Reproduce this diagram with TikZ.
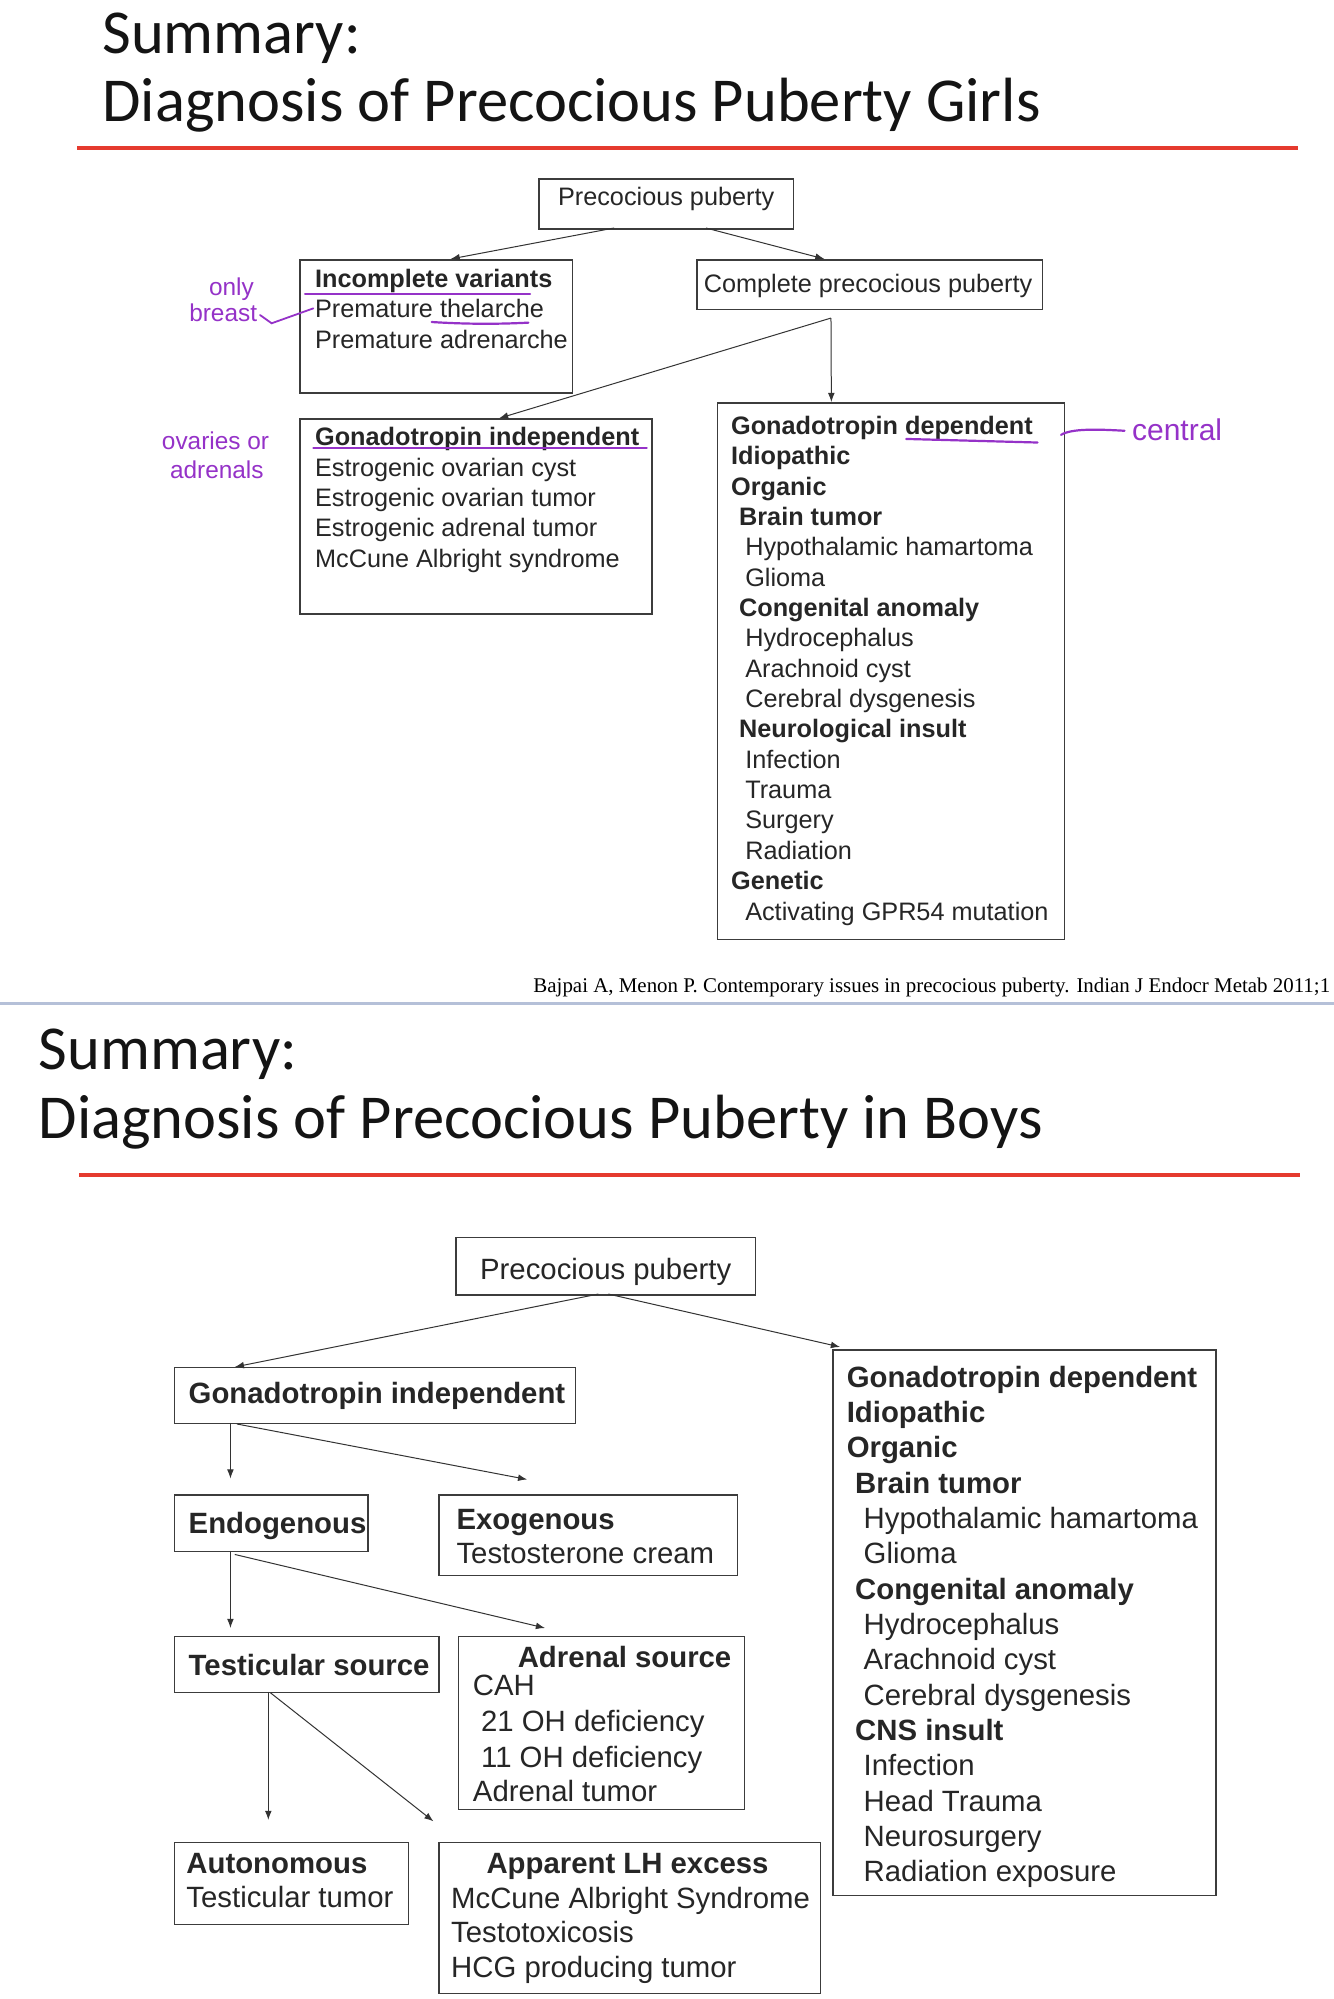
\documentclass[tikz,border=0pt]{standalone}
\usepackage{fontspec}
\setmainfont{Liberation Sans}
\newfontfamily\titlefont{Carlito}
\newfontfamily\citefont{Liberation Serif}
\newfontfamily\handfont{Liberation Sans}
\usetikzlibrary{arrows.meta}
\newdimen\pxu \pxu=0.6377pt
\definecolor{txtc}{HTML}{262626}
\definecolor{boxc}{HTML}{3C3C3C}
\definecolor{linec}{HTML}{333333}
\definecolor{redl}{HTML}{E53A2E}
\definecolor{sepl}{HTML}{B5C0D8}
\definecolor{annot}{HTML}{9532C8}
\newcommand{\boxtext}[5]{\parbox[t][#2\pxu][t]{#1\pxu}{\raggedright\leftskip=#3\pxu\relax\vspace*{#4\pxu}\strut #5}}
\newcommand{\ia}{\hspace*{6.3\pxu}}
\newcommand{\ib}{\hspace*{11.1\pxu}}
\newcommand{\ja}{\hspace*{6.6\pxu}}
\newcommand{\jb}{\hspace*{13.3\pxu}}
\begin{document}
\begin{tikzpicture}[x=0.6377pt, y=-0.6377pt,
  bx/.style={draw=boxc, line width=0.75pt, inner sep=0pt, anchor=north west, text=txtc},
  gfont/.style={font=\fontsize{12.63}{15.18}\selectfont},
  bfont/.style={font=\fontsize{14.67}{17.66}\selectfont},
  arr/.style={draw=linec, line width=0.5pt, -{Latex[length=4.6pt,width=3.4pt]}},
  ttl/.style={anchor=base west, inner sep=0pt, font=\titlefont\fontsize{31.25}{36}\selectfont, text=black!92},
  hand/.style={text=annot, inner sep=0pt, font=\handfont\fontsize{12.2}{14}\selectfont},
  hline/.style={draw=annot, line width=1.1pt, line cap=round}]
\fill[white] (0,0) rectangle (1046,1567.5);
\useasboundingbox (0,0) rectangle (1046,1567.5);

% ===== Girls =====
\node[ttl] (t1a) at (80,41.8) {Summary:};
\node[ttl] (t1b) at (80,95.4) {Diagnosis of Precocious Puberty Girls};
\draw[redl, line width=2pt] (60.4,116) -- (1017.8,116);

\node[bx, gfont] (ppg) at (421.9,139.6) {\boxtext{199.9}{39.2}{15.1}{4.4}{Precocious puberty}};
\node[bx, gfont] (cpp) at (545.8,203.1) {\boxtext{271.2}{39.2}{5.5}{8.9}{Complete precocious puberty}};
\node[bx, gfont] (iv) at (234.7,203.1) {\boxtext{213.6}{104.5}{11.8}{5.0}{\textbf{Incomplete variants}\\Premature thelarche\\Premature adrenarche}};
\node[bx, gfont] (gig) at (234.7,328) {\boxtext{275.8}{153}{11.8}{4.3}{\textbf{Gonadotropin independent}\\Estrogenic ovarian cyst\\Estrogenic ovarian tumor\\Estrogenic adrenal tumor\\McCune Albright syndrome}};
\node[bx, gfont] (gdg) at (562.2,315.3) {\boxtext{272.1}{421}{10.5}{8.0}{\textbf{Gonadotropin dependent}\\\textbf{Idiopathic}\\\textbf{Organic}\\\ia\textbf{Brain tumor}\\\ib Hypothalamic hamartoma\\\ib Glioma\\\ia\textbf{Congenital anomaly}\\\ib Hydrocephalus\\\ib Arachnoid cyst\\\ib Cerebral dysgenesis\\\ia\textbf{Neurological insult}\\\ib Infection\\\ib Trauma\\\ib Surgery\\\ib Radiation\\\textbf{Genetic}\\\ib Activating GPR54 mutation}};

\coordinate (ga) at (481.5,178.8);
\coordinate (gb) at (553.6,178.8);
\coordinate (ivtop) at (353.3,203.1);
\coordinate (cpptop) at (646.5,203.1);
\coordinate (gj) at (651.6,249.4);
\coordinate (gdtop) at (651.9,315.3);
\coordinate (gitop) at (391.3,328);
\draw[arr] (ga) -- (ivtop);
\draw[arr] (gb) -- (cpptop);
\draw[arr] (gj) -- (gdtop);
\draw[arr] (gj) -- (gitop);

% annotations
\node[hand] (h1) at (181.5,226.7) {only};
\node[hand] (h2) at (175,245.6) {breast};
\draw[hline, line width=0.9pt] (203.9,247) -- (213,253.5) -- (245.7,241.8);
\draw[hline] (239.2,230.5) -- (415.6,230.5);
\draw[hline] (338.5,252.5) .. controls (370,254.5) and (395,254) .. (414.3,253);
\node[hand] (h3) at (169,345.7) {ovaries or};
\node[hand] (h4) at (170,368.5) {adrenals};
\draw[hline] (245.7,351.5) -- (507.1,351.5);
\draw[hline] (710.6,344.2) -- (813.6,347);
\draw[hline] (832,341) .. controls (840,336) and (860,336.5) .. (881.8,337.8);
\node[hand, font=\handfont\fontsize{15}{17}\selectfont] (h5) at (923,337) {central};

% citation + separator
\node[anchor=base west, inner sep=0pt, font=\citefont\fontsize{10.46}{12}\selectfont, text=black] (cite) at (418,778.4) {Bajpai A, Menon P. Contemporary issues in precocious puberty. Indian J Endocr Metab 2011;1};
\draw[sepl, line width=1.3pt] (0,786.8) -- (1046,786.8);

% ===== Boys =====
\node[ttl] (t2a) at (30,839) {Summary:};
\node[ttl] (t2b) at (30,893) {Diagnosis of Precocious Puberty in Boys};
\draw[redl, line width=2pt] (62,921.4) -- (1019,921.4);

\node[bx, bfont] (ppb) at (356.8,969.7) {\boxtext{235.2}{45}{19.1}{13.8}{Precocious puberty}};
\node[bx, bfont] (gib) at (136.2,1071.9) {\boxtext{314.4}{43.8}{11.2}{8.6}{\textbf{Gonadotropin independent}}};
\node[bx, bfont] (endo) at (136.2,1171.6) {\boxtext{151.9}{44.5}{11.2}{11.1}{\textbf{Endogenous}}};
\node[bx, bfont] (exo) at (343.5,1171.6) {\boxtext{234.4}{63.1}{13.9}{7.6}{\textbf{Exogenous}\\[-1.1\pxu]Testosterone cream}};
\node[bx, bfont] (tes) at (136.2,1282.6) {\boxtext{207.3}{44.1}{11.2}{11.4}{\textbf{Testicular source}}};
\node[bx, bfont] (adr) at (359.1,1282.6) {\boxtext{224.2}{135.8}{11.2}{5.2}{\hspace*{35.1\pxu}\textbf{Adrenal source}\\[-5.8\pxu]CAH\\[0.4\pxu]\hspace*{6.4\pxu}21 OH deficiency\\[0.3\pxu]\hspace*{6.4\pxu}11 OH deficiency\\[-0.7\pxu]Adrenal tumor}};
\node[bx, bfont] (aut) at (136.2,1444) {\boxtext{183.7}{64.4}{9.4}{5.1}{\textbf{Autonomous}\\[-0.8\pxu]Testicular tumor}};
\node[bx, bfont] (alh) at (343.5,1444) {\boxtext{299.2}{118.7}{9.7}{5.1}{\hspace*{27.7\pxu}\textbf{Apparent LH excess}\\[-0.6\pxu]McCune Albright Syndrome\\[-0.6\pxu]Testotoxicosis\\[-0.6\pxu]HCG producing tumor}};
\node[bx, bfont] (gdb) at (652.7,1057.9) {\boxtext{300.4}{427.7}{10.7}{10.0}{\textbf{Gonadotropin dependent}\\\textbf{Idiopathic}\\\textbf{Organic}\\\ja\textbf{Brain tumor}\\\jb Hypothalamic hamartoma\\\jb Glioma\\\ja\textbf{Congenital anomaly}\\\jb Hydrocephalus\\\jb Arachnoid cyst\\\jb Cerebral dysgenesis\\\ja\textbf{CNS insult}\\\jb Infection\\\jb Head Trauma\\\jb Neurosurgery\\\jb Radiation exposure}};

\coordinate (ba) at (469.2,1014.7);
\coordinate (bb) at (477,1014.7);
\coordinate (gibtip) at (184.1,1071.9);
\coordinate (gdbtip) at (658.7,1056.2);
\coordinate (gi1) at (180.7,1115.7);
\coordinate (gi2) at (185.8,1116.6);
\coordinate (endotip) at (180.7,1159.4);
\coordinate (exotip) at (413.4,1160.1);
\coordinate (en1) at (180.7,1216.1);
\coordinate (en2) at (184.1,1218.9);
\coordinate (testip) at (180.7,1276.6);
\coordinate (adrtip) at (427.4,1276.6);
\coordinate (ts1) at (210.4,1326.7);
\coordinate (ts2) at (212.1,1327.4);
\coordinate (auttip) at (210.4,1427.1);
\coordinate (alhtip) at (339.9,1428.2);
\draw[arr] (ba) -- (gibtip);
\draw[arr] (bb) -- (gdbtip);
\draw[arr] (gi1) -- (endotip);
\draw[arr] (gi2) -- (exotip);
\draw[arr] (en1) -- (testip);
\draw[arr] (en2) -- (adrtip);
\draw[arr] (ts1) -- (auttip);
\draw[arr] (ts2) -- (alhtip);
\end{tikzpicture}
\end{document}
